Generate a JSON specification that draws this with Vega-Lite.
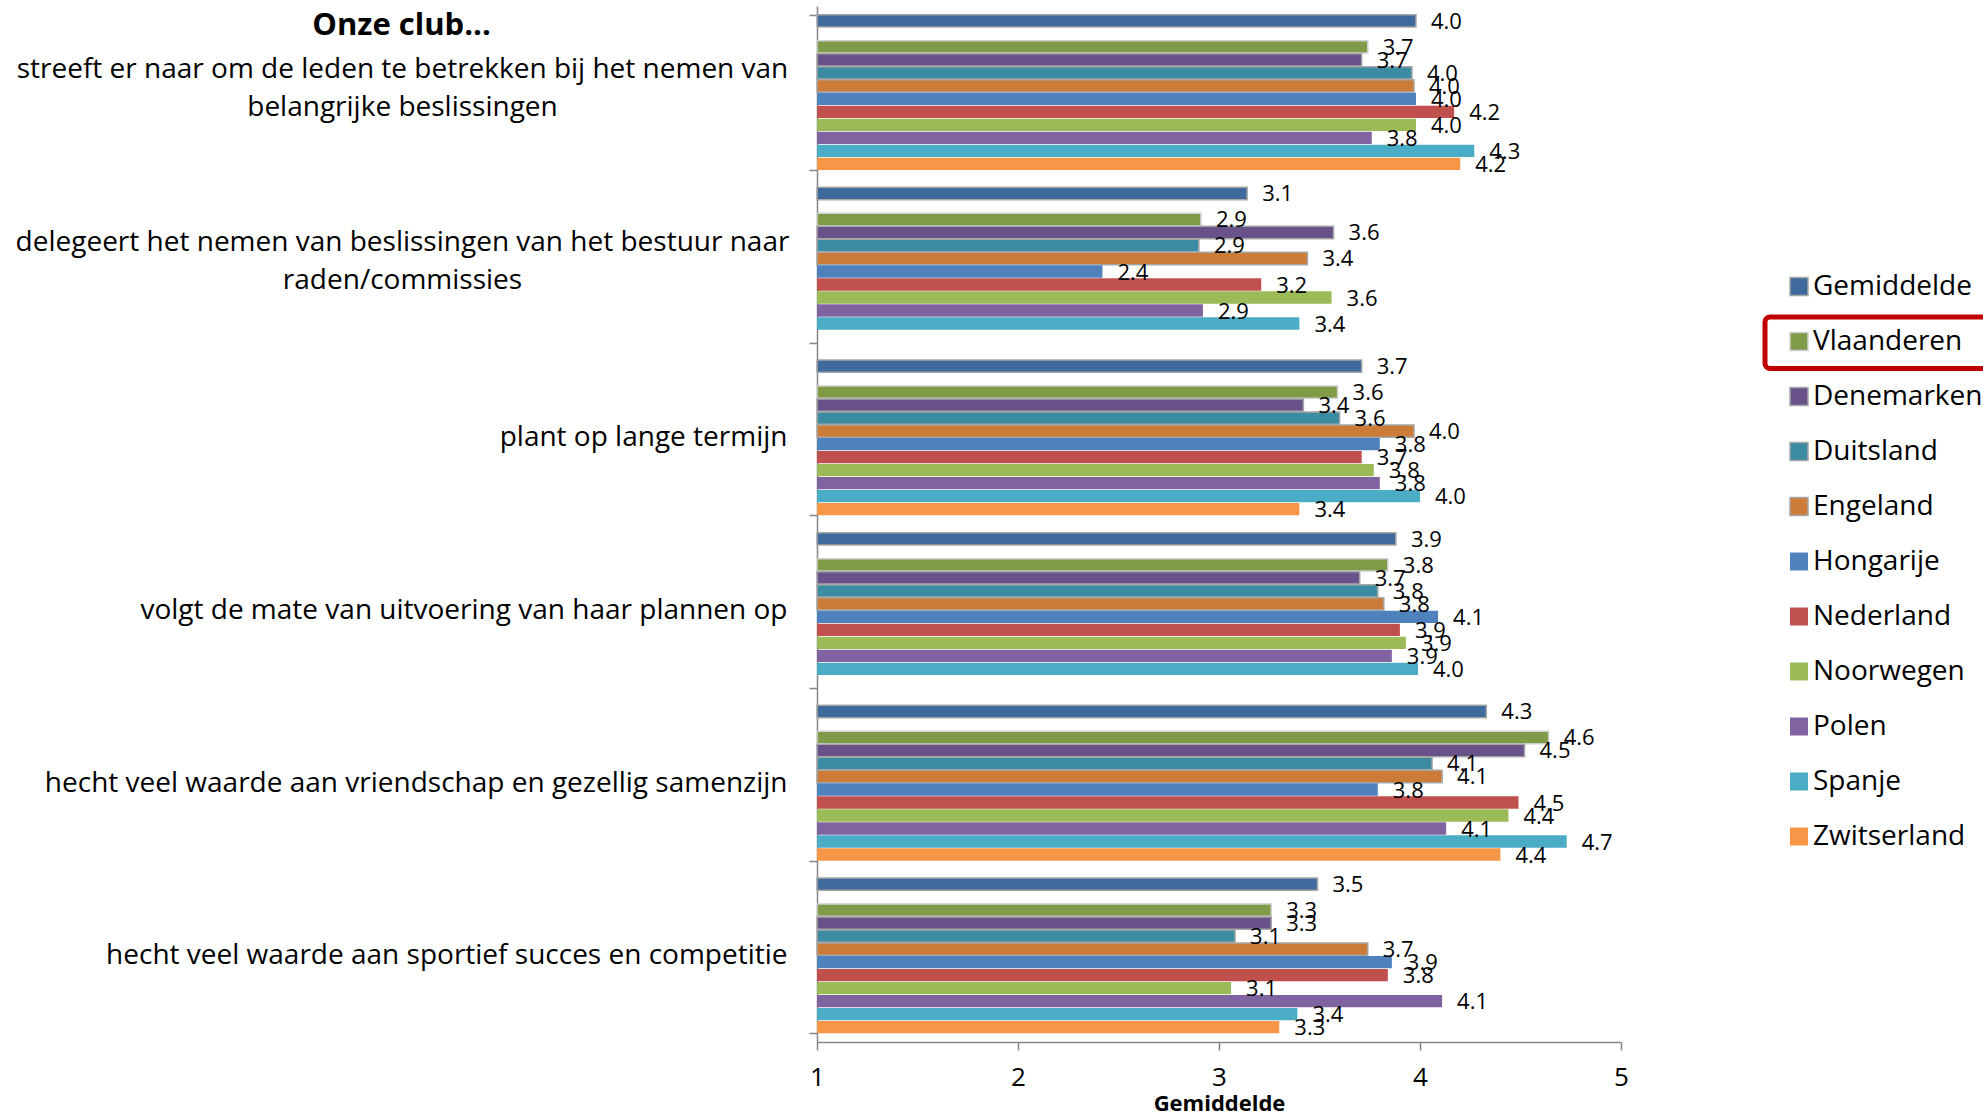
{
  "$schema": "https://vega.github.io/schema/vega-lite/v6.json",
  "width": 804,
  "height": 1036,
  "autosize": {"type": "none"},
  "padding": {"left": 817, "top": 6, "right": 362, "bottom": 77},
  "background": "white",
  "config": {"view": {"stroke": null}, "font": "Open Sans", "axis": {"grid": false}},
  "data": {"values": [
    {"cat": "streeft er naar om de leden te betrekken bij het nemen van|belangrijke beslissingen", "series": "Gemiddelde", "value": 3.98},
    {"cat": "streeft er naar om de leden te betrekken bij het nemen van|belangrijke beslissingen", "series": "Vlaanderen", "value": 3.74},
    {"cat": "streeft er naar om de leden te betrekken bij het nemen van|belangrijke beslissingen", "series": "Denemarken", "value": 3.71},
    {"cat": "streeft er naar om de leden te betrekken bij het nemen van|belangrijke beslissingen", "series": "Duitsland", "value": 3.96},
    {"cat": "streeft er naar om de leden te betrekken bij het nemen van|belangrijke beslissingen", "series": "Engeland", "value": 3.97},
    {"cat": "streeft er naar om de leden te betrekken bij het nemen van|belangrijke beslissingen", "series": "Hongarije", "value": 3.98},
    {"cat": "streeft er naar om de leden te betrekken bij het nemen van|belangrijke beslissingen", "series": "Nederland", "value": 4.17},
    {"cat": "streeft er naar om de leden te betrekken bij het nemen van|belangrijke beslissingen", "series": "Noorwegen", "value": 3.98},
    {"cat": "streeft er naar om de leden te betrekken bij het nemen van|belangrijke beslissingen", "series": "Polen", "value": 3.76},
    {"cat": "streeft er naar om de leden te betrekken bij het nemen van|belangrijke beslissingen", "series": "Spanje", "value": 4.27},
    {"cat": "streeft er naar om de leden te betrekken bij het nemen van|belangrijke beslissingen", "series": "Zwitserland", "value": 4.2},
    {"cat": "delegeert het nemen van beslissingen van het bestuur naar|raden/commissies", "series": "Gemiddelde", "value": 3.14},
    {"cat": "delegeert het nemen van beslissingen van het bestuur naar|raden/commissies", "series": "Vlaanderen", "value": 2.91},
    {"cat": "delegeert het nemen van beslissingen van het bestuur naar|raden/commissies", "series": "Denemarken", "value": 3.57},
    {"cat": "delegeert het nemen van beslissingen van het bestuur naar|raden/commissies", "series": "Duitsland", "value": 2.9},
    {"cat": "delegeert het nemen van beslissingen van het bestuur naar|raden/commissies", "series": "Engeland", "value": 3.44},
    {"cat": "delegeert het nemen van beslissingen van het bestuur naar|raden/commissies", "series": "Hongarije", "value": 2.42},
    {"cat": "delegeert het nemen van beslissingen van het bestuur naar|raden/commissies", "series": "Nederland", "value": 3.21},
    {"cat": "delegeert het nemen van beslissingen van het bestuur naar|raden/commissies", "series": "Noorwegen", "value": 3.56},
    {"cat": "delegeert het nemen van beslissingen van het bestuur naar|raden/commissies", "series": "Polen", "value": 2.92},
    {"cat": "delegeert het nemen van beslissingen van het bestuur naar|raden/commissies", "series": "Spanje", "value": 3.4},
    {"cat": "plant op lange termijn", "series": "Gemiddelde", "value": 3.71},
    {"cat": "plant op lange termijn", "series": "Vlaanderen", "value": 3.59},
    {"cat": "plant op lange termijn", "series": "Denemarken", "value": 3.42},
    {"cat": "plant op lange termijn", "series": "Duitsland", "value": 3.6},
    {"cat": "plant op lange termijn", "series": "Engeland", "value": 3.97},
    {"cat": "plant op lange termijn", "series": "Hongarije", "value": 3.8},
    {"cat": "plant op lange termijn", "series": "Nederland", "value": 3.71},
    {"cat": "plant op lange termijn", "series": "Noorwegen", "value": 3.77},
    {"cat": "plant op lange termijn", "series": "Polen", "value": 3.8},
    {"cat": "plant op lange termijn", "series": "Spanje", "value": 4.0},
    {"cat": "plant op lange termijn", "series": "Zwitserland", "value": 3.4},
    {"cat": "volgt de mate van uitvoering van haar plannen op", "series": "Gemiddelde", "value": 3.88},
    {"cat": "volgt de mate van uitvoering van haar plannen op", "series": "Vlaanderen", "value": 3.84},
    {"cat": "volgt de mate van uitvoering van haar plannen op", "series": "Denemarken", "value": 3.7},
    {"cat": "volgt de mate van uitvoering van haar plannen op", "series": "Duitsland", "value": 3.79},
    {"cat": "volgt de mate van uitvoering van haar plannen op", "series": "Engeland", "value": 3.82},
    {"cat": "volgt de mate van uitvoering van haar plannen op", "series": "Hongarije", "value": 4.09},
    {"cat": "volgt de mate van uitvoering van haar plannen op", "series": "Nederland", "value": 3.9},
    {"cat": "volgt de mate van uitvoering van haar plannen op", "series": "Noorwegen", "value": 3.93},
    {"cat": "volgt de mate van uitvoering van haar plannen op", "series": "Polen", "value": 3.86},
    {"cat": "volgt de mate van uitvoering van haar plannen op", "series": "Spanje", "value": 3.99},
    {"cat": "hecht veel waarde aan vriendschap en gezellig samenzijn", "series": "Gemiddelde", "value": 4.33},
    {"cat": "hecht veel waarde aan vriendschap en gezellig samenzijn", "series": "Vlaanderen", "value": 4.64},
    {"cat": "hecht veel waarde aan vriendschap en gezellig samenzijn", "series": "Denemarken", "value": 4.52},
    {"cat": "hecht veel waarde aan vriendschap en gezellig samenzijn", "series": "Duitsland", "value": 4.06},
    {"cat": "hecht veel waarde aan vriendschap en gezellig samenzijn", "series": "Engeland", "value": 4.11},
    {"cat": "hecht veel waarde aan vriendschap en gezellig samenzijn", "series": "Hongarije", "value": 3.79},
    {"cat": "hecht veel waarde aan vriendschap en gezellig samenzijn", "series": "Nederland", "value": 4.49},
    {"cat": "hecht veel waarde aan vriendschap en gezellig samenzijn", "series": "Noorwegen", "value": 4.44},
    {"cat": "hecht veel waarde aan vriendschap en gezellig samenzijn", "series": "Polen", "value": 4.13},
    {"cat": "hecht veel waarde aan vriendschap en gezellig samenzijn", "series": "Spanje", "value": 4.73},
    {"cat": "hecht veel waarde aan vriendschap en gezellig samenzijn", "series": "Zwitserland", "value": 4.4},
    {"cat": "hecht veel waarde aan sportief succes en competitie", "series": "Gemiddelde", "value": 3.49},
    {"cat": "hecht veel waarde aan sportief succes en competitie", "series": "Vlaanderen", "value": 3.26},
    {"cat": "hecht veel waarde aan sportief succes en competitie", "series": "Denemarken", "value": 3.26},
    {"cat": "hecht veel waarde aan sportief succes en competitie", "series": "Duitsland", "value": 3.08},
    {"cat": "hecht veel waarde aan sportief succes en competitie", "series": "Engeland", "value": 3.74},
    {"cat": "hecht veel waarde aan sportief succes en competitie", "series": "Hongarije", "value": 3.86},
    {"cat": "hecht veel waarde aan sportief succes en competitie", "series": "Nederland", "value": 3.84},
    {"cat": "hecht veel waarde aan sportief succes en competitie", "series": "Noorwegen", "value": 3.06},
    {"cat": "hecht veel waarde aan sportief succes en competitie", "series": "Polen", "value": 4.11},
    {"cat": "hecht veel waarde aan sportief succes en competitie", "series": "Spanje", "value": 3.39},
    {"cat": "hecht veel waarde aan sportief succes en competitie", "series": "Zwitserland", "value": 3.3}
  ]},
  "encoding": {
    "y": {
      "field": "cat", "type": "nominal", "sort": null,
      "scale": {"paddingInner": 0.1, "paddingOuter": 0.05},
      "axis": {
        "title": "Onze club...", "titleAngle": 0, "titleAlign": "center", "titleBaseline": "middle",
        "titleX": -416, "titleY": 19, "titleFontSize": 31, "titleFontWeight": "bold", "titleColor": "black",
        "labelExpr": "datum.label == '' ? '' : split(datum.label, '|')",
        "labelFontSize": 28, "labelColor": "black", "labelLineHeight": 38, "labelLimit": 1000,
        "labelAlign": {"condition": {"test": "indexof(datum.label, '|') >= 0", "value": "center"}, "value": "right"},
        "labelPadding": {"condition": {"test": "indexof(datum.label, '|') >= 0", "value": 407}, "value": 22},
        "labelOffset": {"condition": {"test": "indexof(datum.label, '|') >= 0", "value": -23}, "value": 0},
        "domainColor": "#868686", "domainWidth": 1.5, "tickColor": "#868686", "tickSize": 8, "tickWidth": 1.5, "tickBand": "extent"
      }
    },
    "yOffset": {
      "field": "series", "type": "nominal",
      "scale": {"domain": ["Gemiddelde", " ", "Vlaanderen", "Denemarken", "Duitsland", "Engeland", "Hongarije", "Nederland", "Noorwegen", "Polen", "Spanje", "Zwitserland"], "paddingInner": 0.05, "paddingOuter": 0}
    },
    "x": {
      "field": "value", "type": "quantitative",
      "scale": {"domain": [1, 5], "nice": false, "zero": false},
      "axis": {
        "title": "Gemiddelde", "values": [1, 2, 3, 4, 5], "format": "d",
        "labelFontSize": 26, "labelColor": "black", "labelPadding": 14, "labelFlush": false,
        "tickSize": 8, "tickColor": "#868686", "tickWidth": 1.5, "domainColor": "#868686", "domainWidth": 1.5,
        "titleFontSize": 22, "titleFontWeight": "bold", "titleColor": "black", "titlePadding": 3
      }
    }
  },
  "layer": [
    {
      "mark": {"type": "bar", "strokeWidth": 1.5},
      "encoding": {
        "x2": {"datum": 1},
        "fill": {
          "field": "series", "type": "nominal",
          "scale": {
            "domain": ["Gemiddelde", "Vlaanderen", "Denemarken", "Duitsland", "Engeland", "Hongarije", "Nederland", "Noorwegen", "Polen", "Spanje", "Zwitserland"],
            "range": ["#3F6A9C", "#7F9B48", "#69528A", "#3B8BA2", "#CC7B38", "#4F81BD", "#C0504D", "#9BBB59", "#8064A2", "#4BACC6", "#F79646"]
          },
          "legend": {
            "title": null, "orient": "none", "legendX": 948, "legendY": 256, "padding": 0, "rowPadding": 0, "direction": "vertical",
            "clipHeight": 49,
            "symbolType": "square", "symbolSize": 324, "symbolStrokeWidth": 1.5, "symbolOffset": 20, "labelOffset": 0,
            "labelFontSize": 28, "labelColor": "black", "labelLimit": 300,
            "encoding": {
              "entries": {
                "width": {"value": 240},
                "stroke": {"condition": {"test": "datum.index === 1", "value": "#C00000"}, "value": "transparent"},
                "strokeWidth": {"value": 5}, "cornerRadius": {"value": 5}
              }
            }
          }
        },
        "stroke": {
          "field": "series", "type": "nominal",
          "scale": {
            "domain": ["Gemiddelde", "Vlaanderen", "Denemarken", "Duitsland", "Engeland", "Hongarije", "Nederland", "Noorwegen", "Polen", "Spanje", "Zwitserland"],
            "range": ["#A6A6A6", "#D0D0D0", "#A6A6A6", "#A6A6A6", "#A6A6A6", "transparent", "transparent", "transparent", "transparent", "transparent", "transparent"]
          }
        }
      }
    },
    {
      "mark": {"type": "text", "align": "left", "baseline": "middle", "dx": 15, "dy": 1, "fontSize": 22, "color": "black"},
      "encoding": {"text": {"field": "value", "type": "quantitative", "format": ".1f"}}
    }
  ]
}
